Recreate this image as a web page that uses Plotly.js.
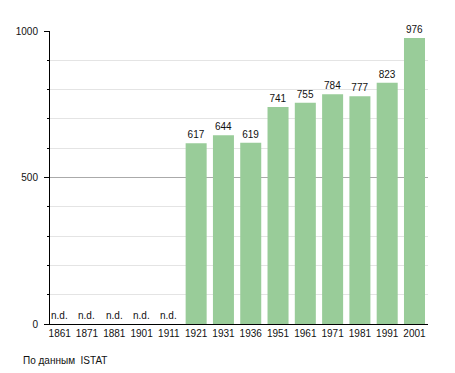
<!DOCTYPE html>
<html>
<head>
<meta charset="utf-8">
<script src="https://cdn.plot.ly/plotly-3.0.1.min.js"></script>
<style>html,body{margin:0;padding:0;background:#fff;}#chart{width:455px;height:373px;}</style>
</head>
<body>
<div id="chart"></div>
<script>
var years = ["1861","1871","1881","1901","1911","1921","1931","1936","1951","1961","1971","1981","1991","2001"];
var population = [null,null,null,null,null,617,644,619,741,755,784,777,823,976];
var noDataLabel = "n.d.";
var sourceNote = "По данным&nbsp; ISTAT";

var barText = population.map(function(v){ return v === null ? "" : String(v); });

var fontFam = "Liberation Sans, Arial, sans-serif";

var traces = [
  {
    type: "bar",
    x: years,
    y: population,
    text: barText,
    textposition: "outside",
    cliponaxis: false,
    textfont: {family: fontFam, size: 10, color: "#111"},
    marker: {color: "#99cc99", line: {width: 0}},
    hoverinfo: "none"
  }
];

var annotations = [];
years.forEach(function(yr, i){
  if (population[i] !== null) return;
  annotations.push({
    xref: "x", yref: "y",
    x: i, y: 0,
    xanchor: "center", yanchor: "bottom",
    yshift: 1,
    text: noDataLabel,
    showarrow: false,
    font: {family: fontFam, size: 10, color: "#111"}
  });
});
annotations.push({
  xref: "paper", yref: "paper",
  x: -29/378, y: -37/293,
  xanchor: "left", yanchor: "middle",
  text: sourceNote,
  showarrow: false,
  font: {family: fontFam, size: 10, color: "#111"}
});

var layout = {
  width: 455,
  height: 373,
  margin: {l: 50, r: 27, t: 31, b: 49},
  paper_bgcolor: "#fff",
  plot_bgcolor: "#fff",
  showlegend: false,
  bargap: 0.23,
  font: {family: fontFam, size: 10, color: "#111"},
  xaxis: {
    type: "category",
    range: [-0.355, 13.495],
    showline: true,
    linecolor: "#000",
    linewidth: 1,
    ticks: "",
    showgrid: false,
    zeroline: false,
    tickfont: {family: fontFam, size: 10, color: "#111"},
    fixedrange: true
  },
  yaxis: {
    range: [0, 1000],
    tickvals: [0, 500, 1000],
    ticktext: ["0", "500", "1000"],
    ticks: "outside",
    ticklen: 5,
    tickcolor: "#000",
    ticklabelstandoff: 4,
    showline: true,
    linecolor: "#000",
    linewidth: 1,
    showgrid: true,
    gridcolor: "#aaaaaa",
    gridwidth: 1,
    zeroline: false,
    minor: {
      dtick: 100,
      tick0: 0,
      showgrid: true,
      gridcolor: "#e4e4e4",
      gridwidth: 1,
      ticks: "outside",
      ticklen: 2,
      tickcolor: "#000"
    },
    tickfont: {family: fontFam, size: 10, color: "#111"},
    fixedrange: true
  },
  annotations: annotations
};

Plotly.newPlot("chart", traces, layout, {displayModeBar: false, staticPlot: true});
</script>
</body>
</html>
